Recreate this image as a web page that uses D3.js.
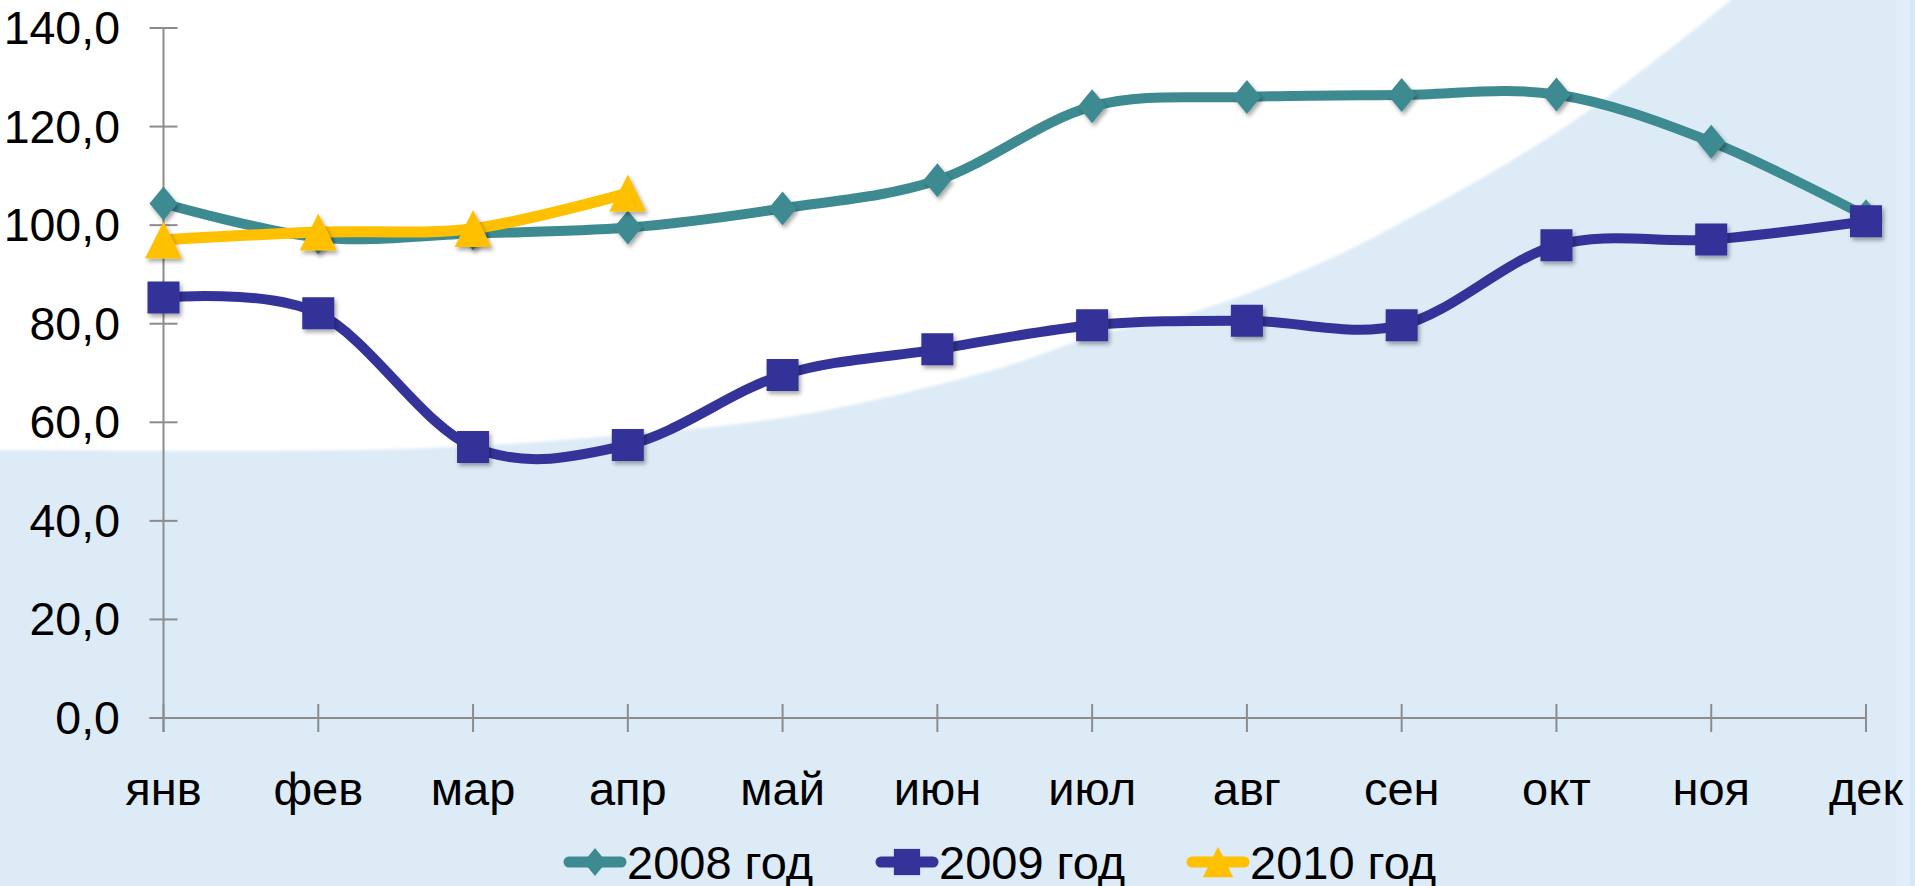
<!DOCTYPE html>
<html><head><meta charset="utf-8">
<script src="https://cdn.jsdelivr.net/npm/d3@7"></script>
<style>
html,body{margin:0;padding:0;background:#fff;overflow:hidden}
svg{display:block}
text{font-family:"Liberation Sans",Arial,sans-serif;fill:#000}
</style></head>
<body>
<svg id="chart" width="1915" height="886"></svg>
<script>
const months = ["янв","фев","мар","апр","май","июн","июл","авг","сен","окт","ноя","дек"];
const values2008 = [104.4, 97.5, 98.3, 99.5, 103.4, 109.1, 124.1, 126.0, 126.4, 126.5, 116.9, 101.8];
const values2009 = [85.3, 82.1, 55.0, 55.4, 69.6, 74.8, 79.7, 80.6, 79.7, 95.9, 97.1, 100.8];
const values2010 = [97.0, 98.6, 99.3, 106.5];
const seriesNames = ["2008 год","2009 год","2010 год"];
const yTicks = [0,20,40,60,80,100,120,140];

const W = 1915, H = 886;
const svg = d3.select("#chart");

// background
svg.append("rect").attr("width",W).attr("height",H).attr("fill","#DDEBF7");
svg.append("rect").attr("x",1896).attr("y",0).attr("width",14).attr("height",H).attr("fill","#E1EDF8");
svg.append("rect").attr("x",1910).attr("y",0).attr("width",5).attr("height",H).attr("fill","#D8E7F8");
const defs = svg.append("defs");
defs.append("filter").attr("id","soft").attr("x","-5%").attr("y","-5%").attr("width","110%").attr("height","110%")
  .append("feGaussianBlur").attr("stdDeviation",1.5);
const sh = defs.append("filter").attr("id","shadow").attr("x","-50%").attr("y","-50%").attr("width","200%").attr("height","200%");
sh.append("feDropShadow").attr("dx",2).attr("dy",3).attr("stdDeviation",2).attr("flood-color","#000").attr("flood-opacity",0.35);

const bgEdge = [[0,450],[400,449],[600,437],[800,415],[1000,368],[1091,337],[1200,310],[1300,272],[1382,233],[1565,127],[1731,0]];
const bgLine = d3.line().curve(d3.curveCatmullRom.alpha(0.5));
svg.append("path")
  .attr("d", "M-10,-10 L-10,450 " + bgLine(bgEdge).replace(/^M/,"L") + " L1731,-10 Z")
  .attr("fill","#ffffff").attr("filter","url(#soft)");

// scales
const x = d3.scalePoint().domain(months).range([163.5, 1866]);
const y = d3.scaleLinear().domain([0,140]).range([718, 28]);

const axisColor = "#8C8C8C";
// Y axis
const yAxis = svg.append("g");
yAxis.append("line").attr("x1",x("янв")).attr("x2",x("янв")).attr("y1",y(140)).attr("y2",y(0)+14)
  .attr("stroke",axisColor).attr("stroke-width",2);
yAxis.selectAll("line.t").data(yTicks).join("line").attr("class","t")
  .attr("x1",x("янв")-14).attr("x2",x("янв")+14).attr("y1",d=>y(d)).attr("y2",d=>y(d))
  .attr("stroke",axisColor).attr("stroke-width",2);
yAxis.selectAll("text").data(yTicks).join("text")
  .attr("x",120).attr("y",d=>y(d)+16).attr("text-anchor","end")
  .style("font-size","46.5px").text(d=>d3.format(".1f")(d).replace(".",","));

// X axis
const xAxis = svg.append("g");
xAxis.append("line").attr("x1",x("янв")-14).attr("x2",x("дек")).attr("y1",y(0)).attr("y2",y(0))
  .attr("stroke",axisColor).attr("stroke-width",2);
xAxis.selectAll("line.t").data(months).join("line").attr("class","t")
  .attr("x1",d=>x(d)).attr("x2",d=>x(d)).attr("y1",y(0)-14).attr("y2",y(0)+14)
  .attr("stroke",axisColor).attr("stroke-width",2);
xAxis.selectAll("text").data(months).join("text")
  .attr("x",d=>x(d)).attr("y",805).attr("text-anchor","middle")
  .style("font-size","47px").text(d=>d);

// series
const series = [
  {name:seriesNames[0], values:values2008, color:"#3D8B91", width:10, marker:"diamond"},
  {name:seriesNames[1], values:values2009, color:"#333399", width:10, marker:"square"},
  {name:seriesNames[2], values:values2010, color:"#FFC000", width:11, marker:"triangle"}
];
function markerPath(type, s) {
  const k = s;
  if (type==="diamond") { const w=14*k, h=17*k; return `M0,${-h}L${w},0L0,${h}L${-w},0Z`; }
  if (type==="square") { const a=16*k; return `M${-a},${-a}H${a}V${a}H${-a}Z`; }
  const a=18.5*k; return `M0,${-a}L${a},${a}L${-a},${a}Z`;
}
const line = d3.line().x((d,i)=>x(months[i])).y(d=>y(d)).curve(d3.curveCardinal.tension(0));
series.forEach(s=>{
  const g = svg.append("g");
  g.append("path").attr("d", line(s.values)).attr("fill","none")
    .attr("stroke",s.color).attr("stroke-width",s.width).attr("stroke-linejoin","round").attr("stroke-linecap","round");
  g.selectAll("path.m").data(s.values).join("path").attr("class","m")
    .attr("transform",(d,i)=>`translate(${x(months[i])},${y(d)})`)
    .attr("d", markerPath(s.marker,1)).attr("fill",s.color).attr("filter","url(#shadow)");
});

// legend
const legendX = [564, 876, 1187];
const leg = svg.append("g");
series.forEach((s,i)=>{
  const g = leg.append("g").attr("transform",`translate(${legendX[i]},862)`);
  g.append("line").attr("x1",5).attr("x2",57).attr("y1",0).attr("y2",0)
    .attr("stroke",s.color).attr("stroke-width",11).attr("stroke-linecap","round");
  g.append("path").attr("transform","translate(31,0)").attr("d", markerPath(s.marker,0.82)).attr("fill",s.color);
  g.append("text").attr("x",63).attr("y",17).style("font-size","47px").text(s.name);
});
</script>
</body></html>
